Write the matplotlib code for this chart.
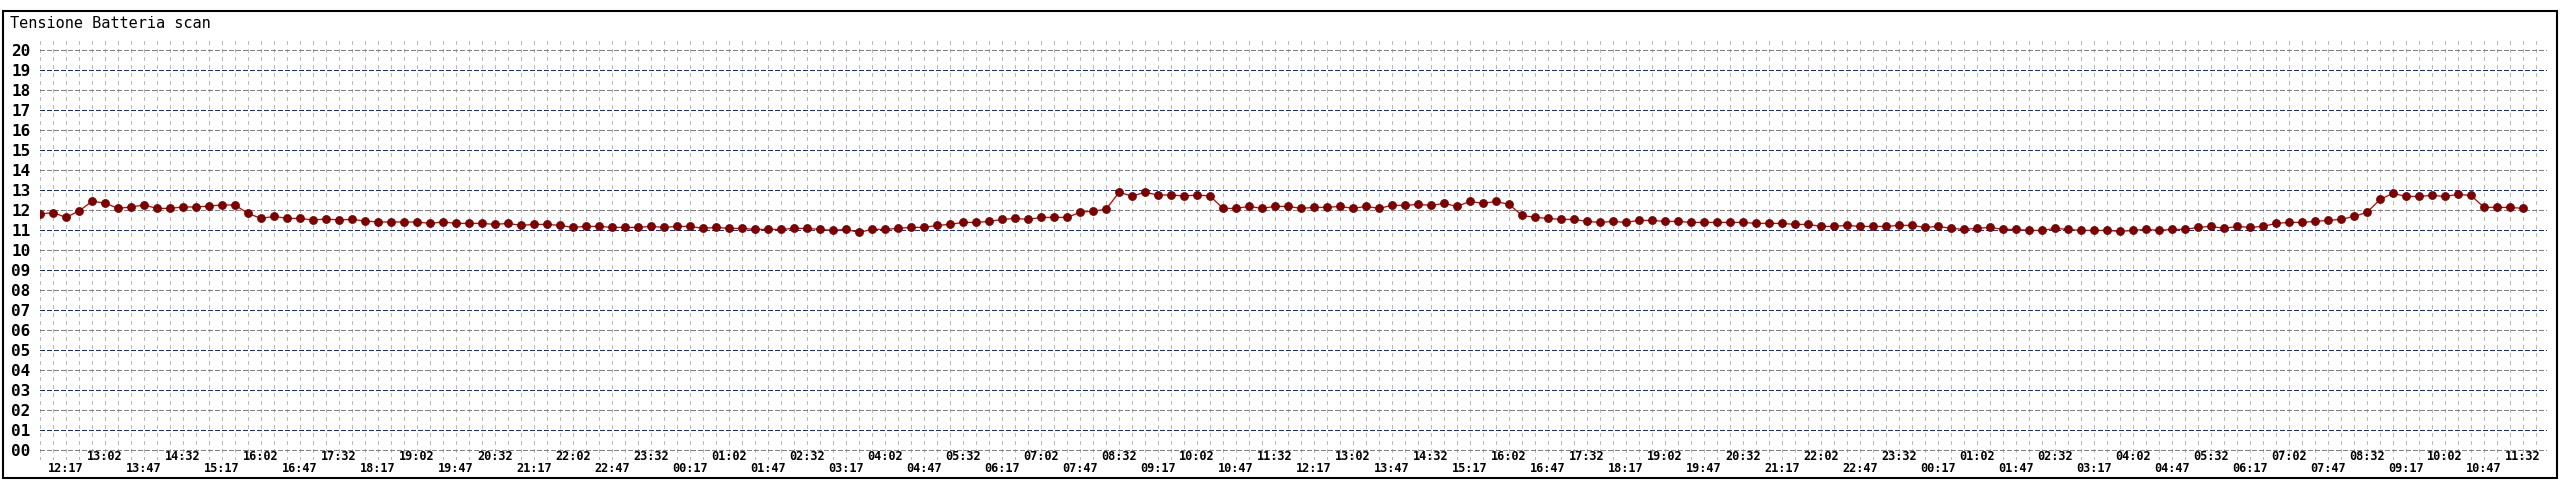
import matplotlib
matplotlib.use("Agg")
import matplotlib.pyplot as plt
from matplotlib.patches import Rectangle
import numpy as np

# battery voltage, one sample every 15 minutes (first sample 11:47)
volts = [
    11.80, 11.87, 11.63, 11.95, 12.43, 12.35, 12.08, 12.15, 12.25, 12.08, 12.08, 12.15, 12.15, 12.20,
    12.25, 12.25, 11.83, 11.58, 11.68, 11.58, 11.58, 11.50, 11.55, 11.50, 11.53, 11.45, 11.40, 11.40,
    11.40, 11.40, 11.33, 11.40, 11.33, 11.33, 11.33, 11.28, 11.33, 11.23, 11.28, 11.28, 11.23, 11.13,
    11.18, 11.18, 11.13, 11.13, 11.13, 11.18, 11.13, 11.18,
    11.18, 11.08, 11.13, 11.08, 11.08, 11.03, 11.03, 11.03, 11.08, 11.08, 11.03, 10.98, 11.03, 10.88,
    11.03, 11.03, 11.08, 11.13, 11.13, 11.23, 11.28, 11.38, 11.38,
    11.43, 11.53, 11.58, 11.53, 11.63, 11.63, 11.63, 11.88, 11.95, 12.03, 12.88, 12.70, 12.88, 12.75,
    12.75, 12.70, 12.75, 12.70, 12.08, 12.08, 12.18, 12.08, 12.18,
    12.18, 12.08, 12.13, 12.13, 12.18, 12.08, 12.18, 12.08, 12.23, 12.23, 12.28, 12.23, 12.33, 12.18,
    12.43, 12.33, 12.43, 12.28, 11.73, 11.63, 11.58, 11.53,
    11.53, 11.43, 11.38, 11.43, 11.38, 11.48, 11.48, 11.43, 11.43, 11.38, 11.38, 11.38, 11.38, 11.38,
    11.33, 11.33, 11.33, 11.28, 11.28, 11.18, 11.18, 11.23, 11.18,
    11.18, 11.18, 11.23, 11.23, 11.13, 11.18, 11.08, 11.03, 11.08, 11.13, 11.03, 11.03, 10.98, 10.98,
    11.08, 11.03, 10.98, 10.98, 10.98, 10.93, 10.98, 11.03, 10.98,
    11.03, 11.03, 11.13, 11.18, 11.08, 11.18, 11.13, 11.18, 11.33, 11.38, 11.38, 11.43, 11.48, 11.53,
    11.68, 11.88, 12.53, 12.83, 12.68, 12.68, 12.73, 12.68, 12.78, 12.73, 12.13, 12.13, 12.13, 12.08,
]

# x labels, one every 3 samples starting at the 3rd sample
day_labels = ["12:17", "13:02", "13:47", "14:32", "15:17", "16:02", "16:47", "17:32",
              "18:17", "19:02", "19:47", "20:32", "21:17", "22:02", "22:47", "23:32",
              "00:17", "01:02", "01:47", "02:32", "03:17", "04:02", "04:47", "05:32",
              "06:17", "07:02", "07:47", "08:32", "09:17", "10:02", "10:47", "11:32"]
time_labels = day_labels + day_labels
y_labels = ["%02d" % v for v in range(21)]

plt.rcParams["lines.scale_dashes"] = False
mono = "DejaVu Sans Mono"
W, H = 2560, 480
px = 0.72  # one pixel in points at dpi 100

fig = plt.figure(figsize=(W / 100, H / 100), dpi=100)
fig.patch.set_facecolor("white")

left, right, top, bottom = 40, 2547, 40, 460
ax = fig.add_axes([left / W, (H - bottom) / H, (right - left) / W, (bottom - top) / H])
step = 13
ax.set_xlim(0, (right - left) / step)
ax.set_ylim(-0.5, 20.5)
for s in ax.spines.values():
    s.set_visible(False)

# vertical grid, one per sample
for k in range(len(volts) + 1):
    ax.axvline(k, color="#b8b8b8", lw=px, dashes=(4 * px, 5 * px), zorder=1, antialiased=False)

# horizontal grid: even grey, odd blue
for v in range(21):
    col = "#808080" if v % 2 == 0 else "#0030c8"
    ax.axhline(v, color=col, lw=1.1 * px, dashes=(5 * px, 2.5 * px), zorder=2, antialiased=False)

x = np.arange(len(volts))
ax.plot(x, volts, color="#cc0000", lw=1.3 * px, zorder=3)
ax.plot(x, volts, linestyle="none", marker="o", markersize=8 * px,
        markerfacecolor="#800000", markeredgecolor="#660000", markeredgewidth=0.5, zorder=4)

ax.set_yticks(range(21))
ax.set_yticklabels(y_labels, fontfamily=mono, fontweight="bold", fontsize=11.5)
ax.tick_params(axis="y", length=0, pad=7)
ax.set_xticks([])

tr = ax.get_xaxis_transform()
for j, lab in enumerate(time_labels):
    k = 2 + 3 * j
    yy = (bottom - 457) / (bottom - top) if j % 2 == 1 else (bottom - 468) / (bottom - top)
    ax.text(k, yy, lab, transform=tr, ha="center", va="center", fontfamily=mono,
            fontweight="bold", fontsize=8.6, clip_on=False)

fig.text(10 / W, 1 - 24 / H, "Tensione Batteria scan", fontfamily=mono, fontsize=11,
         ha="left", va="center")

fig.patches.append(Rectangle((2.5 / W, 2.5 / H), 2554 / W, 467 / H, fill=False,
                             edgecolor="black", lw=1.5, transform=fig.transFigure))

fig.savefig("out.png", dpi=100)
